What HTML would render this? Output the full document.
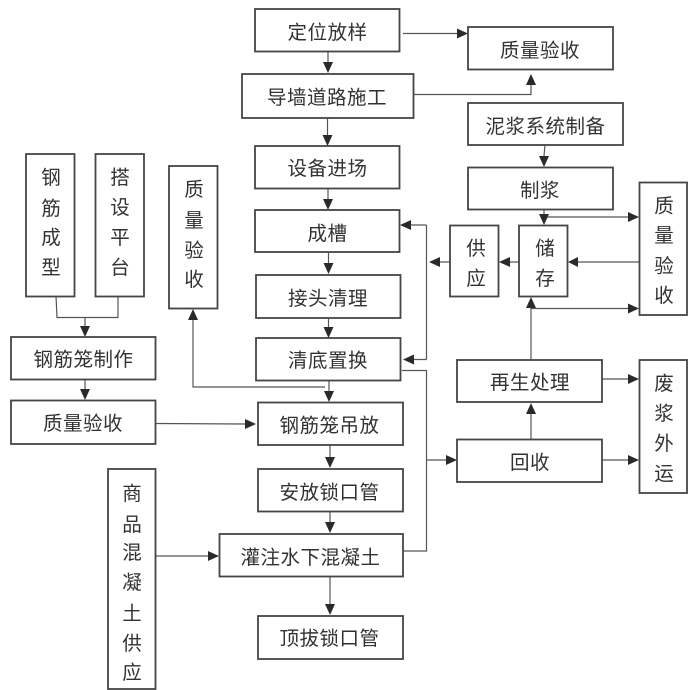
<!DOCTYPE html>
<html>
<head>
<meta charset="utf-8">
<style>
html,body{margin:0;padding:0;background:#fff;width:693px;height:690px;overflow:hidden}
svg{display:block;position:absolute;left:0;top:0}
text{font-family:"Liberation Sans","Noto Sans CJK SC",sans-serif;font-size:19.500px;fill:#333;text-anchor:middle;dominant-baseline:central}
.b{fill:#fff;stroke:#444;stroke-width:1.800}
.l{fill:none;stroke:#555;stroke-width:1.200}
.a{fill:#2c2c2c;stroke:none}
</style>
</head>
<body>
<svg width="693" height="690" viewBox="0 0 693 690" xmlns="http://www.w3.org/2000/svg">
<defs><filter id="s" filterUnits="userSpaceOnUse" x="0" y="0" width="693" height="690"><feGaussianBlur stdDeviation="0.350"/></filter></defs>
<g filter="url(#s)">
<!-- connectors -->
<path class="l" d="M328 51V62M327.500 118V135M328 188V199M328.500 252V263M328.500 318V327M329 380V391M330 445V457M330 511V522M330 576V604"/>
<path class="l" d="M403 33.500H457M413 94.500H531V85M545 145L544 156M544 210V214M544 217H628M639 262H578M519 262H510M450 262H440"/>
<path class="l" d="M426.500 225V359.500M426.500 225H411M426.500 359.500H414M531 360V308M531 308.500H628M602 379H628M602 460H628M531 439V414"/>
<path class="l" d="M402 370.500H426.500V551H403M427 460H446M56 296L57 317.500H118V296M85 317.500V326M85 380V389M156 423.500L245 424M156 556H208M193 320V387H325"/>
<!-- arrowheads -->
<path class="a" d="M323 62H333L328 73ZM322.500 135H332.500L327.500 146ZM323 199H333L328 210ZM323.500 263H333.500L328.500 274ZM323.500 327H333.500L328.500 338ZM324 391H334L329 402ZM325 457H335L330 468ZM325 522H335L330 533ZM325 604H335L330 615Z"/>
<path class="a" d="M457 28.500V38.500L468 33.500ZM526 85H536L531 74ZM539 156H549L544 167ZM539 214H549L544 225ZM628 212V222L639 217ZM578 257V267L568 262ZM510 257V267L499 262ZM440 257V267L429 262Z"/>
<path class="a" d="M411 220V230L400 225ZM414 354.500V364.500L403 359.500ZM526 308H536L531 297ZM628 303.500V313.500L639 308.500ZM628 374V384L639 379ZM628 455V465L639 460ZM526 414H536L531 403ZM446 455V465L457 460Z"/>
<path class="a" d="M80 326H90L85 337ZM80 389H90L85 400ZM245 419V429L256 424ZM208 551V561L219 556ZM188 320H198L193 309Z"/>
<!-- boxes -->
<rect class="b" x="255" y="9" width="144.500" height="42.500"/>
<rect class="b" x="242" y="74" width="171.500" height="44"/>
<rect class="b" x="255" y="146" width="144.500" height="42.500"/>
<rect class="b" x="255" y="210" width="144.500" height="42"/>
<rect class="b" x="256" y="275" width="144.500" height="43"/>
<rect class="b" x="256" y="338" width="144.500" height="42.500"/>
<rect class="b" x="258" y="402.500" width="145" height="42.500"/>
<rect class="b" x="258" y="469" width="145" height="42.500"/>
<rect class="b" x="219.500" y="534" width="183.500" height="42.500"/>
<rect class="b" x="258" y="616" width="145" height="43"/>
<rect class="b" x="468" y="27" width="145" height="42.500"/>
<rect class="b" x="468" y="103" width="155" height="42"/>
<rect class="b" x="468" y="167.500" width="145" height="42"/>
<rect class="b" x="639.500" y="182.500" width="47.500" height="132.500"/>
<rect class="b" x="519" y="225.500" width="48.500" height="71"/>
<rect class="b" x="450" y="225.500" width="48.500" height="71"/>
<rect class="b" x="457" y="360" width="145" height="42"/>
<rect class="b" x="457" y="439.500" width="145" height="42.500"/>
<rect class="b" x="639.500" y="360" width="47.500" height="133"/>
<rect class="b" x="26" y="154" width="48.500" height="142.500"/>
<rect class="b" x="95.500" y="154" width="48.500" height="142.500"/>
<rect class="b" x="169" y="166" width="48.500" height="142.500"/>
<rect class="b" x="11" y="337" width="144.500" height="42.500"/>
<rect class="b" x="11" y="400.500" width="144.500" height="43.500"/>
<rect class="b" x="108" y="469" width="47.500" height="220"/>
<!-- horizontal labels -->
<g style="letter-spacing:0.500px">
<text x="327.500" y="33">定位放样</text>
<text x="327" y="98">导墙道路施工</text>
<text x="327.500" y="169">设备进场</text>
<text x="327.500" y="234">成槽</text>
<text x="328" y="299">接头清理</text>
<text x="328" y="361">清底置换</text>
<text x="329.500" y="426">钢筋笼吊放</text>
<text x="329.500" y="493">安放锁口管</text>
<text x="310.500" y="558">灌注水下混凝土</text>
<text x="329.500" y="639">顶拔锁口管</text>
<text x="540" y="51">质量验收</text>
<text x="545.500" y="127">泥浆系统制备</text>
<text x="540" y="191">制浆</text>
<text x="530" y="383">再生处理</text>
<text x="530" y="463">回收</text>
<text x="83.500" y="360">钢筋笼制作</text>
<text x="83" y="424">质量验收</text>
</g>
<!-- vertical labels -->
<text x="51" y="178">钢</text><text x="51" y="209">筋</text><text x="51" y="238">成</text><text x="51" y="268">型</text>
<text x="120" y="178">搭</text><text x="120" y="208">设</text><text x="120" y="238">平</text><text x="120" y="268">台</text>
<text x="194" y="190">质</text><text x="194" y="221">量</text><text x="194" y="251">验</text><text x="194" y="280">收</text>
<text x="664" y="206.500">质</text><text x="664" y="236">量</text><text x="664" y="266.500">验</text><text x="664" y="296">收</text>
<text x="664" y="384">废</text><text x="664" y="414">浆</text><text x="664" y="444">外</text><text x="664" y="474">运</text>
<text x="132" y="494">商</text><text x="132" y="525">品</text><text x="132" y="553">混</text><text x="132" y="583">凝</text><text x="132" y="614">土</text><text x="132" y="644">供</text><text x="132" y="673">应</text>
<g style="font-size:23px">
<text x="545" y="249">储</text><text x="545" y="279">存</text>
<text x="476" y="249">供</text><text x="476" y="279">应</text>
</g>
</g>
</svg>
</body>
</html>
